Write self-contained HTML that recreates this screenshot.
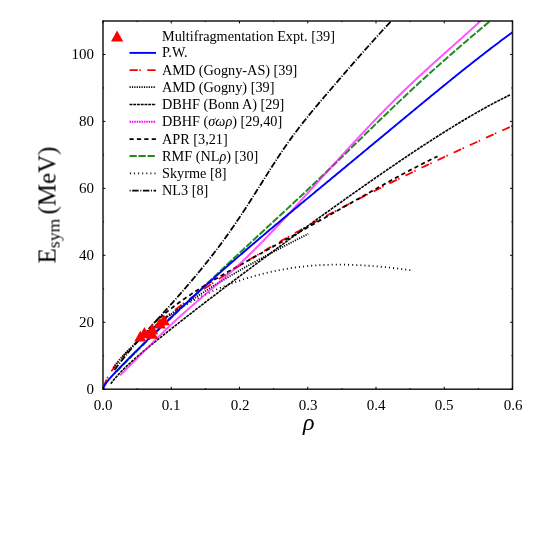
<!DOCTYPE html>
<html><head><meta charset="utf-8"><title>Esym</title>
<style>
html,body{margin:0;padding:0;background:#fff;}
body{width:554px;height:554px;position:relative;overflow:hidden;font-family:"Liberation Serif",serif;color:#000;}
.t{position:absolute;white-space:nowrap;line-height:1;will-change:transform;}
.lg{font-size:14.25px;left:161.7px;}
.xt{font-size:15px;width:40px;text-align:center;top:397.6px;}
.yt{font-size:15px;width:40px;text-align:right;left:54.3px;}
</style></head><body>

<svg width="554" height="554" viewBox="0 0 554 554" style="position:absolute;left:0;top:0">
<defs><clipPath id="c"><rect x="103.00" y="21.00" width="409.50" height="368.20"/></clipPath></defs>
<g clip-path="url(#c)" fill="none" stroke-linecap="butt" stroke-linejoin="round">
<path d="M116.65 371.52 L118.23 369.86 L119.80 368.22 L121.38 366.58 L122.96 364.96 L124.53 363.34 L126.11 361.73 L127.68 360.12 L129.26 358.53 L130.84 356.94 L132.41 355.35 L133.99 353.78 L135.57 352.21 L137.14 350.64 L138.72 349.08 L140.29 347.53 L141.87 345.98 L143.45 344.44 L145.02 342.90 L146.60 341.36 L148.18 339.83 L149.75 338.30 L151.33 336.78 L152.91 335.26 L154.48 333.74 L156.06 332.23 L157.63 330.71 L159.21 329.20 L160.79 327.69 L162.36 326.19 L163.94 324.68 L165.52 323.17 L167.09 321.67 L168.67 320.17 L170.25 318.66 L171.82 317.16 L173.40 315.66 L174.97 314.15 L176.55 312.65 L178.13 311.14 L179.70 309.64 L181.28 308.14 L182.86 306.63 L184.43 305.13 L186.01 303.63 L187.58 302.12 L189.16 300.62 L190.74 299.12 L192.31 297.61 L193.89 296.11 L195.47 294.61 L197.04 293.11 L198.62 291.61 L200.20 290.11 L201.77 288.61 L203.35 287.11 L204.92 285.61 L206.50 284.12 L208.08 282.62 L209.65 281.12 L211.23 279.63 L212.81 278.13 L214.38 276.64 L215.96 275.15 L217.53 273.66 L219.11 272.17 L220.69 270.68 L222.26 269.19 L223.84 267.70 L225.42 266.22 L226.99 264.73 L228.57 263.25 L230.15 261.77 L231.72 260.29 L233.30 258.81 L234.87 257.33 L236.45 255.86 L238.03 254.38 L239.60 252.91 L241.18 251.44 L242.76 249.97 L244.33 248.50 L245.91 247.04 L247.49 245.57 L249.06 244.11 L250.64 242.64 L252.21 241.18 L253.79 239.72 L255.37 238.26 L256.94 236.80 L258.52 235.34 L260.10 233.88 L261.67 232.43 L263.25 230.97 L264.82 229.51 L266.40 228.06 L267.98 226.60 L269.55 225.14 L271.13 223.69 L272.71 222.23 L274.28 220.78 L275.86 219.32 L277.44 217.86 L279.01 216.40 L280.59 214.95 L282.16 213.49 L283.74 212.03 L285.32 210.57 L286.89 209.11 L288.47 207.64 L290.05 206.18 L291.62 204.72 L293.20 203.25 L294.77 201.79 L296.35 200.32 L297.93 198.85 L299.50 197.38 L301.08 195.90 L302.66 194.43 L304.23 192.95 L305.81 191.48 L307.39 189.99 L308.96 188.51 L310.54 187.03 L312.11 185.54 L313.69 184.05 L315.27 182.56 L316.84 181.07 L318.42 179.57 L320.00 178.07 L321.57 176.57 L323.15 175.06 L324.73 173.56 L326.30 172.05 L327.88 170.53 L329.45 169.02 L331.03 167.50 L332.61 165.98 L334.18 164.46 L335.76 162.94 L337.34 161.41 L338.91 159.89 L340.49 158.36 L342.06 156.83 L343.64 155.30 L345.22 153.77 L346.79 152.23 L348.37 150.70 L349.95 149.16 L351.52 147.63 L353.10 146.09 L354.68 144.56 L356.25 143.02 L357.83 141.49 L359.40 139.95 L360.98 138.41 L362.56 136.88 L364.13 135.34 L365.71 133.81 L367.29 132.27 L368.86 130.74 L370.44 129.20 L372.02 127.67 L373.59 126.14 L375.17 124.61 L376.74 123.08 L378.32 121.55 L379.90 120.03 L381.47 118.50 L383.05 116.98 L384.63 115.46 L386.20 113.94 L387.78 112.43 L389.35 110.91 L390.93 109.40 L392.51 107.89 L394.08 106.39 L395.66 104.88 L397.24 103.38 L398.81 101.89 L400.39 100.39 L401.97 98.90 L403.54 97.41 L405.12 95.93 L406.69 94.45 L408.27 92.97 L409.85 91.50 L411.42 90.03 L413.00 88.57 L414.58 87.11 L416.15 85.65 L417.73 84.20 L419.30 82.75 L420.88 81.30 L422.46 79.86 L424.03 78.42 L425.61 76.99 L427.19 75.56 L428.76 74.13 L430.34 72.71 L431.92 71.29 L433.49 69.87 L435.07 68.46 L436.64 67.05 L438.22 65.65 L439.80 64.24 L441.37 62.85 L442.95 61.45 L444.53 60.06 L446.10 58.67 L447.68 57.28 L449.26 55.90 L450.83 54.52 L452.41 53.14 L453.98 51.77 L455.56 50.40 L457.14 49.03 L458.71 47.67 L460.29 46.31 L461.87 44.95 L463.44 43.59 L465.02 42.24 L466.59 40.89 L468.17 39.54 L469.75 38.20 L471.32 36.86 L472.90 35.52 L474.48 34.18 L476.05 32.85 L477.63 31.51 L479.21 30.19 L480.78 28.86 L482.36 27.53 L483.93 26.21 L485.51 24.89 L487.09 23.58 L488.66 22.26 L490.24 20.95 L491.82 19.64 L493.39 18.33" stroke="#228b22" stroke-width="2.00" stroke-dasharray="7.3 1.7"/>
<path d="M103.34 387.22 L106.78 378.81 L110.22 372.97 L113.66 367.97 L117.09 363.45 L120.53 359.26 L123.97 355.32 L127.41 351.58 L130.85 348.00 L134.29 344.55 L137.72 341.22 L141.16 337.99 L144.60 334.85 L148.04 331.79 L151.48 328.80 L154.92 325.88 L158.35 323.01 L161.79 320.20 L165.23 317.44 L168.67 314.73 L172.11 312.06 L175.55 309.43 L178.98 306.84 L182.42 304.29 L185.86 301.77 L189.30 299.28 L192.74 296.82 L196.18 294.40 L199.61 292.00 L203.05 289.62 L206.49 287.27 L209.93 284.95 L213.37 282.65 L216.81 280.37 L220.24 278.11 L223.68 275.87 L227.12 273.65 L230.56 271.45 L234.00 269.27 L237.44 267.11 L240.87 264.96 L244.31 262.83 L247.75 260.72 L251.19 258.62 L254.63 256.54 L258.07 254.47 L261.50 252.42 L264.94 250.38 L268.38 248.35 L271.82 246.34 L275.26 244.33 L278.70 242.35 L282.13 240.37 L285.57 238.40 L289.01 236.45 L292.45 234.51 L295.89 232.57 L299.32 230.65 L302.76 228.74 L306.20 226.84 L309.64 224.95 L313.08 223.07 L316.52 221.20 L319.95 219.34 L323.39 217.48 L326.83 215.64 L330.27 213.80 L333.71 211.98 L337.15 210.16 L340.58 208.35 L344.02 206.55 L347.46 204.75 L350.90 202.97 L354.34 201.19 L357.78 199.42 L361.21 197.65 L364.65 195.90 L368.09 194.15 L371.53 192.41 L374.97 190.67 L378.41 188.94 L381.84 187.22 L385.28 185.51 L388.72 183.80 L392.16 182.10 L395.60 180.40 L399.04 178.71 L402.47 177.03 L405.91 175.35 L409.35 173.68 L412.79 172.01 L416.23 170.35 L419.67 168.69 L423.10 167.05 L426.54 165.40 L429.98 163.76 L433.42 162.13 L436.86 160.50 L440.30 158.88 L443.73 157.26 L447.17 155.65 L450.61 154.04 L454.05 152.44 L457.49 150.84 L460.93 149.25 L464.36 147.66 L467.80 146.08 L471.24 144.50 L474.68 142.93 L478.12 141.36 L481.56 139.79 L484.99 138.23 L488.43 136.67 L491.87 135.12 L495.31 133.57 L498.75 132.03 L502.19 130.49 L505.62 128.95 L509.06 127.42 L512.50 125.89" stroke="#ff0000" stroke-width="1.75" stroke-dasharray="8.3 1.5 1.5 6.5"/>
<path d="M143.95 335.66 L145.07 334.64 L146.18 333.62 L147.30 332.63 L148.41 331.64 L149.53 330.67 L150.64 329.70 L151.76 328.75 L152.87 327.82 L153.99 326.89 L155.10 325.98 L156.22 325.07 L157.33 324.18 L158.45 323.30 L159.56 322.43 L160.68 321.57 L161.79 320.72 L162.91 319.89 L164.02 319.06 L165.14 318.24 L166.25 317.44 L167.37 316.64 L168.48 315.85 L169.60 315.08 L170.71 314.31 L171.83 313.55 L172.94 312.80 L174.06 312.07 L175.17 311.34 L176.29 310.62 L177.40 309.90 L178.52 309.20 L179.63 308.51 L180.75 307.82 L181.86 307.14 L182.98 306.47 L184.09 305.81 L185.21 305.16 L186.33 304.51 L187.44 303.87 L188.56 303.24 L189.67 302.62 L190.79 302.00 L191.90 301.39 L193.02 300.79 L194.13 300.19 L195.25 299.61 L196.36 299.02 L197.48 298.45 L198.59 297.88 L199.71 297.31 L200.82 296.76 L201.94 296.20 L203.05 295.66 L204.17 295.12 L205.28 294.58 L206.40 294.05 L207.51 293.53 L208.63 293.01 L209.74 292.49 L210.86 291.99 L211.97 291.48 L213.09 290.98 L214.20 290.49 L215.32 290.00 L216.43 289.52 L217.55 289.04 L218.66 288.57 L219.78 288.10 L220.89 287.64 L222.01 287.18 L223.12 286.73 L224.24 286.28 L225.35 285.84 L226.47 285.40 L227.59 284.97 L228.70 284.54 L229.82 284.12 L230.93 283.70 L232.05 283.29 L233.16 282.88 L234.28 282.48 L235.39 282.08 L236.51 281.69 L237.62 281.30 L238.74 280.92 L239.85 280.54 L240.97 280.16 L242.08 279.79 L243.20 279.43 L244.31 279.07 L245.43 278.72 L246.54 278.37 L247.66 278.02 L248.77 277.68 L249.89 277.35 L251.00 277.01 L252.12 276.69 L253.23 276.37 L254.35 276.05 L255.46 275.74 L256.58 275.43 L257.69 275.12 L258.81 274.83 L259.92 274.53 L261.04 274.24 L262.15 273.96 L263.27 273.68 L264.38 273.40 L265.50 273.13 L266.61 272.86 L267.73 272.60 L268.85 272.34 L269.96 272.09 L271.08 271.84 L272.19 271.59 L273.31 271.35 L274.42 271.12 L275.54 270.89 L276.65 270.66 L277.77 270.44 L278.88 270.22 L280.00 270.00 L281.11 269.80 L282.23 269.59 L283.34 269.39 L284.46 269.19 L285.57 269.00 L286.69 268.81 L287.80 268.63 L288.92 268.45 L290.03 268.28 L291.15 268.11 L292.26 267.94 L293.38 267.78 L294.49 267.62 L295.61 267.47 L296.72 267.32 L297.84 267.18 L298.95 267.04 L300.07 266.90 L301.18 266.77 L302.30 266.64 L303.41 266.52 L304.53 266.40 L305.64 266.28 L306.76 266.17 L307.87 266.07 L308.99 265.96 L310.11 265.87 L311.22 265.77 L312.34 265.68 L313.45 265.59 L314.57 265.51 L315.68 265.43 L316.80 265.36 L317.91 265.29 L319.03 265.22 L320.14 265.16 L321.26 265.10 L322.37 265.05 L323.49 264.99 L324.60 264.95 L325.72 264.90 L326.83 264.86 L327.95 264.83 L329.06 264.79 L330.18 264.76 L331.29 264.74 L332.41 264.72 L333.52 264.70 L334.64 264.68 L335.75 264.67 L336.87 264.66 L337.98 264.66 L339.10 264.66 L340.21 264.66 L341.33 264.66 L342.44 264.67 L343.56 264.68 L344.67 264.70 L345.79 264.72 L346.90 264.74 L348.02 264.76 L349.13 264.79 L350.25 264.82 L351.37 264.85 L352.48 264.89 L353.60 264.93 L354.71 264.97 L355.83 265.01 L356.94 265.06 L358.06 265.11 L359.17 265.17 L360.29 265.22 L361.40 265.28 L362.52 265.35 L363.63 265.41 L364.75 265.48 L365.86 265.55 L366.98 265.62 L368.09 265.70 L369.21 265.77 L370.32 265.85 L371.44 265.94 L372.55 266.02 L373.67 266.11 L374.78 266.20 L375.90 266.29 L377.01 266.39 L378.13 266.49 L379.24 266.59 L380.36 266.69 L381.47 266.79 L382.59 266.90 L383.70 267.01 L384.82 267.12 L385.93 267.23 L387.05 267.35 L388.16 267.46 L389.28 267.58 L390.39 267.70 L391.51 267.83 L392.63 267.95 L393.74 268.08 L394.86 268.21 L395.97 268.34 L397.09 268.47 L398.20 268.60 L399.32 268.74 L400.43 268.88 L401.55 269.02 L402.66 269.16 L403.78 269.30 L404.89 269.45 L406.01 269.59 L407.12 269.74 L408.24 269.89 L409.35 270.04 L410.47 270.19" stroke="#000" stroke-width="1.80" stroke-dasharray="1 3.1"/>
<path d="M113.24 367.73 L116.54 363.37 L119.85 359.37 L123.15 355.62 L126.46 352.08 L129.76 348.71 L133.07 345.48 L136.37 342.36 L139.68 339.35 L142.98 336.43 L146.29 333.59 L149.59 330.82 L152.90 328.12 L156.20 325.48 L159.51 322.89 L162.81 320.36 L166.12 317.87 L169.42 315.43 L172.73 313.02 L176.03 310.66 L179.34 308.33 L182.64 306.04 L185.95 303.77 L189.25 301.54 L192.56 299.34 L195.86 297.16 L199.17 295.02 L202.47 292.89 L205.78 290.79 L209.08 288.71 L212.39 286.66 L215.69 284.62 L218.99 282.61 L222.30 280.62 L225.60 278.64 L228.91 276.68 L232.21 274.74 L235.52 272.82 L238.82 270.91 L242.13 269.02 L245.43 267.14 L248.74 265.28 L252.04 263.43 L255.35 261.60 L258.65 259.78 L261.96 257.97 L265.26 256.18 L268.57 254.39 L271.87 252.62 L275.18 250.87 L278.48 249.12 L281.79 247.38 L285.09 245.66 L288.40 243.94 L291.70 242.24 L295.01 240.55 L298.31 238.86 L301.62 237.19 L304.92 235.52 L308.23 233.87" stroke="#000" stroke-width="1.80" stroke-dasharray="1.2 1.2"/>
<path d="M110.78 383.80 L112.45 381.57 L114.12 379.48 L115.80 377.49 L117.47 375.59 L119.14 373.77 L120.81 372.01 L122.48 370.30 L124.16 368.64 L125.83 367.02 L127.50 365.43 L129.17 363.87 L130.84 362.33 L132.52 360.82 L134.19 359.33 L135.86 357.86 L137.53 356.41 L139.20 354.96 L140.88 353.53 L142.55 352.12 L144.22 350.71 L145.89 349.31 L147.56 347.92 L149.24 346.54 L150.91 345.16 L152.58 343.80 L154.25 342.43 L155.92 341.08 L157.60 339.72 L159.27 338.37 L160.94 337.03 L162.61 335.69 L164.28 334.35 L165.96 333.02 L167.63 331.69 L169.30 330.36 L170.97 329.04 L172.64 327.72 L174.32 326.40 L175.99 325.08 L177.66 323.77 L179.33 322.46 L181.00 321.15 L182.68 319.84 L184.35 318.53 L186.02 317.23 L187.69 315.93 L189.36 314.63 L191.04 313.33 L192.71 312.03 L194.38 310.74 L196.05 309.44 L197.72 308.15 L199.40 306.86 L201.07 305.57 L202.74 304.29 L204.41 303.00 L206.08 301.72 L207.76 300.43 L209.43 299.15 L211.10 297.87 L212.77 296.59 L214.44 295.32 L216.12 294.04 L217.79 292.77 L219.46 291.49 L221.13 290.22 L222.80 288.95 L224.48 287.68 L226.15 286.41 L227.82 285.15 L229.49 283.88 L231.16 282.62 L232.84 281.36 L234.51 280.10 L236.18 278.84 L237.85 277.58 L239.52 276.32 L241.20 275.06 L242.87 273.81 L244.54 272.56 L246.21 271.30 L247.88 270.05 L249.56 268.80 L251.23 267.55 L252.90 266.31 L254.57 265.06 L256.24 263.81 L257.92 262.57 L259.59 261.33 L261.26 260.09 L262.93 258.84 L264.60 257.61 L266.28 256.37 L267.95 255.13 L269.62 253.89 L271.29 252.66 L272.96 251.43 L274.64 250.19 L276.31 248.96 L277.98 247.73 L279.65 246.50 L281.32 245.27 L283.00 244.05 L284.67 242.82 L286.34 241.59 L288.01 240.37 L289.68 239.15 L291.36 237.93 L293.03 236.70 L294.70 235.48 L296.37 234.27 L298.04 233.05 L299.72 231.83 L301.39 230.62 L303.06 229.40 L304.73 228.19 L306.40 226.97 L308.08 225.76 L309.75 224.55 L311.42 223.34 L313.09 222.14 L314.76 220.93 L316.44 219.72 L318.11 218.52 L319.78 217.31 L321.45 216.11 L323.12 214.91 L324.80 213.71 L326.47 212.51 L328.14 211.31 L329.81 210.11 L331.48 208.91 L333.16 207.72 L334.83 206.52 L336.50 205.33 L338.17 204.14 L339.84 202.95 L341.52 201.76 L343.19 200.57 L344.86 199.38 L346.53 198.20 L348.20 197.01 L349.88 195.83 L351.55 194.65 L353.22 193.47 L354.89 192.29 L356.56 191.11 L358.23 189.93 L359.91 188.75 L361.58 187.58 L363.25 186.41 L364.92 185.24 L366.59 184.07 L368.27 182.90 L369.94 181.73 L371.61 180.57 L373.28 179.40 L374.95 178.24 L376.63 177.08 L378.30 175.92 L379.97 174.77 L381.64 173.61 L383.31 172.46 L384.99 171.31 L386.66 170.16 L388.33 169.01 L390.00 167.86 L391.67 166.72 L393.35 165.58 L395.02 164.44 L396.69 163.30 L398.36 162.17 L400.03 161.03 L401.71 159.90 L403.38 158.78 L405.05 157.65 L406.72 156.53 L408.39 155.41 L410.07 154.29 L411.74 153.17 L413.41 152.06 L415.08 150.95 L416.75 149.84 L418.43 148.74 L420.10 147.63 L421.77 146.54 L423.44 145.44 L425.11 144.35 L426.79 143.26 L428.46 142.17 L430.13 141.09 L431.80 140.01 L433.47 138.93 L435.15 137.86 L436.82 136.79 L438.49 135.73 L440.16 134.66 L441.83 133.61 L443.51 132.55 L445.18 131.50 L446.85 130.46 L448.52 129.42 L450.19 128.38 L451.87 127.35 L453.54 126.32 L455.21 125.29 L456.88 124.27 L458.55 123.26 L460.23 122.25 L461.90 121.24 L463.57 120.24 L465.24 119.25 L466.91 118.26 L468.59 117.28 L470.26 116.30 L471.93 115.32 L473.60 114.36 L475.27 113.39 L476.95 112.44 L478.62 111.49 L480.29 110.54 L481.96 109.60 L483.63 108.67 L485.31 107.75 L486.98 106.83 L488.65 105.91 L490.32 105.01 L491.99 104.11 L493.67 103.22 L495.34 102.33 L497.01 101.46 L498.68 100.59 L500.35 99.72 L502.03 98.87 L503.70 98.02 L505.37 97.18 L507.04 96.35 L508.71 95.53 L510.39 94.71" stroke="#000" stroke-width="1.60" stroke-dasharray="2.9 0.85"/>
<path d="M154.19 322.77 L155.37 321.69 L156.56 320.61 L157.74 319.56 L158.93 318.52 L160.11 317.49 L161.30 316.47 L162.49 315.47 L163.67 314.48 L164.86 313.50 L166.04 312.53 L167.23 311.57 L168.41 310.63 L169.60 309.69 L170.78 308.77 L171.97 307.86 L173.15 306.95 L174.34 306.06 L175.52 305.17 L176.71 304.29 L177.90 303.43 L179.08 302.57 L180.27 301.71 L181.45 300.87 L182.64 300.03 L183.82 299.20 L185.01 298.38 L186.19 297.56 L187.38 296.76 L188.56 295.95 L189.75 295.16 L190.93 294.37 L192.12 293.58 L193.31 292.81 L194.49 292.03 L195.68 291.26 L196.86 290.50 L198.05 289.74 L199.23 288.99 L200.42 288.24 L201.60 287.50 L202.79 286.76 L203.97 286.02 L205.16 285.29 L206.34 284.57 L207.53 283.84 L208.72 283.12 L209.90 282.41 L211.09 281.69 L212.27 280.98 L213.46 280.27 L214.64 279.57 L215.83 278.87 L217.01 278.17 L218.20 277.47 L219.38 276.78 L220.57 276.09 L221.75 275.40 L222.94 274.71 L224.13 274.03 L225.31 273.35 L226.50 272.67 L227.68 271.99 L228.87 271.31 L230.05 270.64 L231.24 269.96 L232.42 269.29 L233.61 268.62 L234.79 267.95 L235.98 267.28 L237.16 266.62 L238.35 265.95 L239.54 265.29 L240.72 264.62 L241.91 263.96 L243.09 263.30 L244.28 262.64 L245.46 261.98 L246.65 261.32 L247.83 260.66 L249.02 260.00 L250.20 259.34 L251.39 258.69 L252.57 258.03 L253.76 257.37 L254.95 256.72 L256.13 256.06 L257.32 255.41 L258.50 254.75 L259.69 254.10 L260.87 253.44 L262.06 252.79 L263.24 252.13 L264.43 251.48 L265.61 250.82 L266.80 250.17 L267.98 249.51 L269.17 248.86 L270.36 248.21 L271.54 247.55 L272.73 246.90 L273.91 246.24 L275.10 245.59 L276.28 244.93 L277.47 244.27 L278.65 243.62 L279.84 242.96 L281.02 242.31 L282.21 241.65 L283.39 240.99 L284.58 240.33 L285.77 239.68 L286.95 239.02 L288.14 238.36 L289.32 237.70 L290.51 237.04 L291.69 236.38 L292.88 235.72 L294.06 235.06 L295.25 234.40 L296.43 233.74 L297.62 233.08 L298.80 232.41 L299.99 231.75 L301.18 231.09 L302.36 230.42 L303.55 229.76 L304.73 229.10 L305.92 228.43 L307.10 227.77 L308.29 227.10 L309.47 226.43 L310.66 225.77 L311.84 225.10 L313.03 224.43 L314.21 223.77 L315.40 223.10 L316.59 222.43 L317.77 221.76 L318.96 221.09 L320.14 220.42 L321.33 219.75 L322.51 219.08 L323.70 218.41 L324.88 217.74 L326.07 217.07 L327.25 216.40 L328.44 215.73 L329.62 215.06 L330.81 214.38 L332.00 213.71 L333.18 213.04 L334.37 212.37 L335.55 211.69 L336.74 211.02 L337.92 210.35 L339.11 209.67 L340.29 209.00 L341.48 208.33 L342.66 207.65 L343.85 206.98 L345.03 206.31 L346.22 205.63 L347.41 204.96 L348.59 204.29 L349.78 203.62 L350.96 202.94 L352.15 202.27 L353.33 201.60 L354.52 200.92 L355.70 200.25 L356.89 199.58 L358.07 198.91 L359.26 198.24 L360.44 197.57 L361.63 196.90 L362.82 196.23 L364.00 195.56 L365.19 194.89 L366.37 194.22 L367.56 193.55 L368.74 192.88 L369.93 192.22 L371.11 191.55 L372.30 190.88 L373.48 190.22 L374.67 189.55 L375.85 188.89 L377.04 188.23 L378.23 187.57 L379.41 186.90 L380.60 186.24 L381.78 185.58 L382.97 184.93 L384.15 184.27 L385.34 183.61 L386.52 182.96 L387.71 182.30 L388.89 181.65 L390.08 181.00 L391.26 180.35 L392.45 179.70 L393.64 179.05 L394.82 178.40 L396.01 177.76 L397.19 177.11 L398.38 176.47 L399.56 175.83 L400.75 175.19 L401.93 174.55 L403.12 173.92 L404.30 173.28 L405.49 172.65 L406.67 172.02 L407.86 171.39 L409.05 170.76 L410.23 170.14 L411.42 169.51 L412.60 168.89 L413.79 168.27 L414.97 167.65 L416.16 167.04 L417.34 166.43 L418.53 165.81 L419.71 165.21 L420.90 164.60 L422.08 163.99 L423.27 163.39 L424.46 162.79 L425.64 162.20 L426.83 161.60 L428.01 161.01 L429.20 160.42 L430.38 159.83 L431.57 159.25 L432.75 158.67 L433.94 158.09 L435.12 157.51 L436.31 156.94 L437.49 156.37" stroke="#000" stroke-width="1.75" stroke-dasharray="4.2 3.2"/>
<path d="M114.40 370.06 L115.57 368.49 L116.74 366.93 L117.90 365.40 L119.07 363.88 L120.24 362.37 L121.41 360.88 L122.58 359.40 L123.75 357.93 L124.92 356.48 L126.09 355.04 L127.25 353.61 L128.42 352.20 L129.59 350.79 L130.76 349.40 L131.93 348.01 L133.10 346.64 L134.27 345.27 L135.44 343.91 L136.61 342.57 L137.77 341.22 L138.94 339.89 L140.11 338.56 L141.28 337.24 L142.45 335.92 L143.62 334.61 L144.79 333.31 L145.96 332.01 L147.12 330.71 L148.29 329.42 L149.46 328.13 L150.63 326.84 L151.80 325.55 L152.97 324.26 L154.14 322.98 L155.31 321.70 L156.48 320.41 L157.64 319.13 L158.81 317.84 L159.98 316.56 L161.15 315.27 L162.32 313.98 L163.49 312.69 L164.66 311.40 L165.83 310.10 L166.99 308.81 L168.16 307.51 L169.33 306.21 L170.50 304.90 L171.67 303.60 L172.84 302.29 L174.01 300.98 L175.18 299.66 L176.35 298.34 L177.51 297.02 L178.68 295.69 L179.85 294.36 L181.02 293.03 L182.19 291.69 L183.36 290.35 L184.53 289.00 L185.70 287.65 L186.86 286.29 L188.03 284.93 L189.20 283.56 L190.37 282.19 L191.54 280.81 L192.71 279.43 L193.88 278.04 L195.05 276.65 L196.22 275.25 L197.38 273.84 L198.55 272.42 L199.72 271.00 L200.89 269.58 L202.06 268.14 L203.23 266.70 L204.40 265.25 L205.57 263.79 L206.73 262.33 L207.90 260.86 L209.07 259.38 L210.24 257.89 L211.41 256.39 L212.58 254.89 L213.75 253.38 L214.92 251.86 L216.09 250.32 L217.25 248.78 L218.42 247.24 L219.59 245.68 L220.76 244.11 L221.93 242.53 L223.10 240.94 L224.27 239.34 L225.44 237.74 L226.60 236.12 L227.77 234.49 L228.94 232.85 L230.11 231.20 L231.28 229.54 L232.45 227.86 L233.62 226.18 L234.79 224.48 L235.96 222.77 L237.12 221.05 L238.29 219.32 L239.46 217.58 L240.63 215.82 L241.80 214.06 L242.97 212.28 L244.14 210.49 L245.31 208.69 L246.47 206.88 L247.64 205.07 L248.81 203.24 L249.98 201.41 L251.15 199.58 L252.32 197.74 L253.49 195.89 L254.66 194.04 L255.83 192.19 L256.99 190.33 L258.16 188.48 L259.33 186.62 L260.50 184.76 L261.67 182.90 L262.84 181.05 L264.01 179.19 L265.18 177.34 L266.34 175.49 L267.51 173.64 L268.68 171.80 L269.85 169.97 L271.02 168.14 L272.19 166.31 L273.36 164.50 L274.53 162.69 L275.70 160.89 L276.86 159.10 L278.03 157.32 L279.20 155.55 L280.37 153.80 L281.54 152.05 L282.71 150.32 L283.88 148.61 L285.05 146.90 L286.21 145.22 L287.38 143.54 L288.55 141.89 L289.72 140.25 L290.89 138.63 L292.06 137.02 L293.23 135.43 L294.40 133.85 L295.57 132.28 L296.73 130.73 L297.90 129.19 L299.07 127.66 L300.24 126.15 L301.41 124.64 L302.58 123.15 L303.75 121.67 L304.92 120.20 L306.08 118.73 L307.25 117.28 L308.42 115.84 L309.59 114.40 L310.76 112.97 L311.93 111.55 L313.10 110.14 L314.27 108.73 L315.44 107.33 L316.60 105.94 L317.77 104.55 L318.94 103.16 L320.11 101.78 L321.28 100.40 L322.45 99.03 L323.62 97.66 L324.79 96.29 L325.95 94.92 L327.12 93.55 L328.29 92.19 L329.46 90.83 L330.63 89.46 L331.80 88.10 L332.97 86.74 L334.14 85.38 L335.31 84.02 L336.47 82.66 L337.64 81.30 L338.81 79.94 L339.98 78.59 L341.15 77.23 L342.32 75.88 L343.49 74.53 L344.66 73.17 L345.82 71.82 L346.99 70.48 L348.16 69.13 L349.33 67.78 L350.50 66.44 L351.67 65.10 L352.84 63.76 L354.01 62.42 L355.18 61.08 L356.34 59.75 L357.51 58.41 L358.68 57.08 L359.85 55.75 L361.02 54.43 L362.19 53.10 L363.36 51.78 L364.53 50.46 L365.69 49.14 L366.86 47.83 L368.03 46.51 L369.20 45.20 L370.37 43.89 L371.54 42.59 L372.71 41.28 L373.88 39.98 L375.05 38.68 L376.21 37.39 L377.38 36.10 L378.55 34.81 L379.72 33.52 L380.89 32.24 L382.06 30.96 L383.23 29.68 L384.40 28.41 L385.57 27.13 L386.73 25.87 L387.90 24.60 L389.07 23.34 L390.24 22.08 L391.41 20.83 L392.58 19.58 L393.75 18.33" stroke="#000" stroke-width="1.80" stroke-dasharray="6.5 1.6 1 1.6"/>
<path d="M120.20 375.26 L121.72 373.76 L123.24 372.24 L124.76 370.73 L126.28 369.21 L127.81 367.68 L129.33 366.15 L130.85 364.62 L132.37 363.08 L133.89 361.55 L135.41 360.01 L136.94 358.47 L138.46 356.93 L139.98 355.39 L141.50 353.85 L143.02 352.31 L144.54 350.77 L146.06 349.24 L147.59 347.70 L149.11 346.17 L150.63 344.65 L152.15 343.12 L153.67 341.60 L155.19 340.09 L156.71 338.58 L158.24 337.08 L159.76 335.58 L161.28 334.09 L162.80 332.61 L164.32 331.13 L165.84 329.67 L167.37 328.21 L168.89 326.76 L170.41 325.32 L171.93 323.90 L173.45 322.48 L174.97 321.07 L176.49 319.67 L178.02 318.28 L179.54 316.90 L181.06 315.53 L182.58 314.16 L184.10 312.80 L185.62 311.45 L187.14 310.10 L188.67 308.76 L190.19 307.43 L191.71 306.10 L193.23 304.77 L194.75 303.45 L196.27 302.13 L197.80 300.81 L199.32 299.50 L200.84 298.19 L202.36 296.88 L203.88 295.57 L205.40 294.26 L206.92 292.95 L208.45 291.64 L209.97 290.33 L211.49 289.02 L213.01 287.71 L214.53 286.40 L216.05 285.08 L217.57 283.76 L219.10 282.43 L220.62 281.11 L222.14 279.77 L223.66 278.44 L225.18 277.09 L226.70 275.74 L228.23 274.39 L229.75 273.03 L231.27 271.66 L232.79 270.28 L234.31 268.89 L235.83 267.50 L237.35 266.10 L238.88 264.68 L240.40 263.26 L241.92 261.83 L243.44 260.39 L244.96 258.93 L246.48 257.47 L248.00 256.00 L249.53 254.52 L251.05 253.03 L252.57 251.53 L254.09 250.02 L255.61 248.51 L257.13 246.98 L258.66 245.45 L260.18 243.91 L261.70 242.37 L263.22 240.81 L264.74 239.25 L266.26 237.69 L267.78 236.11 L269.31 234.53 L270.83 232.94 L272.35 231.35 L273.87 229.75 L275.39 228.15 L276.91 226.54 L278.43 224.92 L279.96 223.30 L281.48 221.67 L283.00 220.04 L284.52 218.41 L286.04 216.77 L287.56 215.13 L289.09 213.48 L290.61 211.83 L292.13 210.18 L293.65 208.52 L295.17 206.86 L296.69 205.20 L298.21 203.53 L299.74 201.86 L301.26 200.19 L302.78 198.52 L304.30 196.85 L305.82 195.17 L307.34 193.49 L308.86 191.81 L310.39 190.13 L311.91 188.45 L313.43 186.77 L314.95 185.09 L316.47 183.41 L317.99 181.73 L319.52 180.05 L321.04 178.37 L322.56 176.69 L324.08 175.01 L325.60 173.33 L327.12 171.65 L328.64 169.98 L330.17 168.30 L331.69 166.63 L333.21 164.95 L334.73 163.28 L336.25 161.61 L337.77 159.95 L339.29 158.28 L340.82 156.62 L342.34 154.95 L343.86 153.29 L345.38 151.64 L346.90 149.98 L348.42 148.33 L349.95 146.68 L351.47 145.04 L352.99 143.39 L354.51 141.75 L356.03 140.11 L357.55 138.48 L359.07 136.85 L360.60 135.22 L362.12 133.60 L363.64 131.98 L365.16 130.36 L366.68 128.75 L368.20 127.14 L369.72 125.54 L371.25 123.94 L372.77 122.34 L374.29 120.75 L375.81 119.16 L377.33 117.58 L378.85 116.00 L380.37 114.43 L381.90 112.87 L383.42 111.30 L384.94 109.75 L386.46 108.20 L387.98 106.65 L389.50 105.11 L391.03 103.58 L392.55 102.05 L394.07 100.53 L395.59 99.01 L397.11 97.50 L398.63 96.00 L400.15 94.50 L401.68 93.01 L403.20 91.52 L404.72 90.05 L406.24 88.58 L407.76 87.11 L409.28 85.66 L410.80 84.21 L412.33 82.77 L413.85 81.33 L415.37 79.90 L416.89 78.48 L418.41 77.06 L419.93 75.65 L421.46 74.25 L422.98 72.85 L424.50 71.45 L426.02 70.06 L427.54 68.68 L429.06 67.30 L430.58 65.92 L432.11 64.54 L433.63 63.17 L435.15 61.80 L436.67 60.44 L438.19 59.07 L439.71 57.71 L441.23 56.35 L442.76 55.00 L444.28 53.64 L445.80 52.28 L447.32 50.93 L448.84 49.57 L450.36 48.22 L451.89 46.87 L453.41 45.51 L454.93 44.15 L456.45 42.80 L457.97 41.44 L459.49 40.08 L461.01 38.72 L462.54 37.36 L464.06 35.99 L465.58 34.62 L467.10 33.25 L468.62 31.88 L470.14 30.50 L471.66 29.11 L473.19 27.73 L474.71 26.34 L476.23 24.94 L477.75 23.54 L479.27 22.14 L480.79 20.73 L482.32 19.31 L483.84 17.89" stroke="#ff00ff" stroke-opacity="0.55" stroke-width="1.90"/>
<path d="M120.20 375.26 L121.72 373.76 L123.24 372.24 L124.76 370.73 L126.28 369.21 L127.81 367.68 L129.33 366.15 L130.85 364.62 L132.37 363.08 L133.89 361.55 L135.41 360.01 L136.94 358.47 L138.46 356.93 L139.98 355.39 L141.50 353.85 L143.02 352.31 L144.54 350.77 L146.06 349.24 L147.59 347.70 L149.11 346.17 L150.63 344.65 L152.15 343.12 L153.67 341.60 L155.19 340.09 L156.71 338.58 L158.24 337.08 L159.76 335.58 L161.28 334.09 L162.80 332.61 L164.32 331.13 L165.84 329.67 L167.37 328.21 L168.89 326.76 L170.41 325.32 L171.93 323.90 L173.45 322.48 L174.97 321.07 L176.49 319.67 L178.02 318.28 L179.54 316.90 L181.06 315.53 L182.58 314.16 L184.10 312.80 L185.62 311.45 L187.14 310.10 L188.67 308.76 L190.19 307.43 L191.71 306.10 L193.23 304.77 L194.75 303.45 L196.27 302.13 L197.80 300.81 L199.32 299.50 L200.84 298.19 L202.36 296.88 L203.88 295.57 L205.40 294.26 L206.92 292.95 L208.45 291.64 L209.97 290.33 L211.49 289.02 L213.01 287.71 L214.53 286.40 L216.05 285.08 L217.57 283.76 L219.10 282.43 L220.62 281.11 L222.14 279.77 L223.66 278.44 L225.18 277.09 L226.70 275.74 L228.23 274.39 L229.75 273.03 L231.27 271.66 L232.79 270.28 L234.31 268.89 L235.83 267.50 L237.35 266.10 L238.88 264.68 L240.40 263.26 L241.92 261.83 L243.44 260.39 L244.96 258.93 L246.48 257.47 L248.00 256.00 L249.53 254.52 L251.05 253.03 L252.57 251.53 L254.09 250.02 L255.61 248.51 L257.13 246.98 L258.66 245.45 L260.18 243.91 L261.70 242.37 L263.22 240.81 L264.74 239.25 L266.26 237.69 L267.78 236.11 L269.31 234.53 L270.83 232.94 L272.35 231.35 L273.87 229.75 L275.39 228.15 L276.91 226.54 L278.43 224.92 L279.96 223.30 L281.48 221.67 L283.00 220.04 L284.52 218.41 L286.04 216.77 L287.56 215.13 L289.09 213.48 L290.61 211.83 L292.13 210.18 L293.65 208.52 L295.17 206.86 L296.69 205.20 L298.21 203.53 L299.74 201.86 L301.26 200.19 L302.78 198.52 L304.30 196.85 L305.82 195.17 L307.34 193.49 L308.86 191.81 L310.39 190.13 L311.91 188.45 L313.43 186.77 L314.95 185.09 L316.47 183.41 L317.99 181.73 L319.52 180.05 L321.04 178.37 L322.56 176.69 L324.08 175.01 L325.60 173.33 L327.12 171.65 L328.64 169.98 L330.17 168.30 L331.69 166.63 L333.21 164.95 L334.73 163.28 L336.25 161.61 L337.77 159.95 L339.29 158.28 L340.82 156.62 L342.34 154.95 L343.86 153.29 L345.38 151.64 L346.90 149.98 L348.42 148.33 L349.95 146.68 L351.47 145.04 L352.99 143.39 L354.51 141.75 L356.03 140.11 L357.55 138.48 L359.07 136.85 L360.60 135.22 L362.12 133.60 L363.64 131.98 L365.16 130.36 L366.68 128.75 L368.20 127.14 L369.72 125.54 L371.25 123.94 L372.77 122.34 L374.29 120.75 L375.81 119.16 L377.33 117.58 L378.85 116.00 L380.37 114.43 L381.90 112.87 L383.42 111.30 L384.94 109.75 L386.46 108.20 L387.98 106.65 L389.50 105.11 L391.03 103.58 L392.55 102.05 L394.07 100.53 L395.59 99.01 L397.11 97.50 L398.63 96.00 L400.15 94.50 L401.68 93.01 L403.20 91.52 L404.72 90.05 L406.24 88.58 L407.76 87.11 L409.28 85.66 L410.80 84.21 L412.33 82.77 L413.85 81.33 L415.37 79.90 L416.89 78.48 L418.41 77.06 L419.93 75.65 L421.46 74.25 L422.98 72.85 L424.50 71.45 L426.02 70.06 L427.54 68.68 L429.06 67.30 L430.58 65.92 L432.11 64.54 L433.63 63.17 L435.15 61.80 L436.67 60.44 L438.19 59.07 L439.71 57.71 L441.23 56.35 L442.76 55.00 L444.28 53.64 L445.80 52.28 L447.32 50.93 L448.84 49.57 L450.36 48.22 L451.89 46.87 L453.41 45.51 L454.93 44.15 L456.45 42.80 L457.97 41.44 L459.49 40.08 L461.01 38.72 L462.54 37.36 L464.06 35.99 L465.58 34.62 L467.10 33.25 L468.62 31.88 L470.14 30.50 L471.66 29.11 L473.19 27.73 L474.71 26.34 L476.23 24.94 L477.75 23.54 L479.27 22.14 L480.79 20.73 L482.32 19.31 L483.84 17.89" stroke="#ff00ff" stroke-width="1.90" stroke-dasharray="0.6 0.6" stroke-opacity="0.55"/>
<path d="M103.00 389.20 L104.71 385.16 L106.43 382.65 L108.14 380.46 L109.85 378.42 L111.57 376.47 L113.28 374.59 L114.99 372.74 L116.71 370.92 L118.42 369.13 L120.13 367.35 L121.85 365.59 L123.56 363.83 L125.27 362.09 L126.99 360.36 L128.70 358.63 L130.41 356.90 L132.13 355.19 L133.84 353.48 L135.55 351.77 L137.27 350.07 L138.98 348.37 L140.69 346.67 L142.41 344.99 L144.12 343.30 L145.83 341.62 L147.55 339.94 L149.26 338.27 L150.98 336.60 L152.69 334.93 L154.40 333.27 L156.12 331.61 L157.83 329.96 L159.54 328.31 L161.26 326.66 L162.97 325.02 L164.68 323.38 L166.40 321.75 L168.11 320.12 L169.82 318.50 L171.54 316.87 L173.25 315.26 L174.96 313.64 L176.68 312.04 L178.39 310.43 L180.10 308.83 L181.82 307.23 L183.53 305.64 L185.24 304.05 L186.96 302.47 L188.67 300.89 L190.38 299.31 L192.10 297.74 L193.81 296.17 L195.52 294.61 L197.24 293.05 L198.95 291.49 L200.66 289.94 L202.38 288.39 L204.09 286.84 L205.80 285.30 L207.52 283.76 L209.23 282.23 L210.94 280.69 L212.66 279.17 L214.37 277.64 L216.08 276.12 L217.80 274.60 L219.51 273.09 L221.22 271.58 L222.94 270.07 L224.65 268.57 L226.36 267.06 L228.08 265.56 L229.79 264.07 L231.50 262.58 L233.22 261.09 L234.93 259.60 L236.64 258.11 L238.36 256.63 L240.07 255.15 L241.79 253.68 L243.50 252.20 L245.21 250.73 L246.93 249.26 L248.64 247.79 L250.35 246.33 L252.07 244.87 L253.78 243.41 L255.49 241.95 L257.21 240.49 L258.92 239.04 L260.63 237.58 L262.35 236.13 L264.06 234.68 L265.77 233.24 L267.49 231.79 L269.20 230.35 L270.91 228.90 L272.63 227.46 L274.34 226.02 L276.05 224.58 L277.77 223.15 L279.48 221.71 L281.19 220.28 L282.91 218.84 L284.62 217.41 L286.33 215.98 L288.05 214.55 L289.76 213.12 L291.47 211.69 L293.19 210.26 L294.90 208.84 L296.61 207.41 L298.33 205.99 L300.04 204.56 L301.75 203.14 L303.47 201.72 L305.18 200.29 L306.89 198.87 L308.61 197.45 L310.32 196.03 L312.03 194.61 L313.75 193.19 L315.46 191.77 L317.17 190.35 L318.89 188.93 L320.60 187.51 L322.31 186.09 L324.03 184.67 L325.74 183.25 L327.45 181.83 L329.17 180.41 L330.88 178.99 L332.60 177.58 L334.31 176.16 L336.02 174.74 L337.74 173.32 L339.45 171.90 L341.16 170.48 L342.88 169.06 L344.59 167.65 L346.30 166.23 L348.02 164.81 L349.73 163.39 L351.44 161.97 L353.16 160.55 L354.87 159.13 L356.58 157.71 L358.30 156.29 L360.01 154.87 L361.72 153.45 L363.44 152.03 L365.15 150.61 L366.86 149.19 L368.58 147.77 L370.29 146.35 L372.00 144.93 L373.72 143.51 L375.43 142.09 L377.14 140.67 L378.86 139.25 L380.57 137.83 L382.28 136.41 L384.00 134.99 L385.71 133.57 L387.42 132.15 L389.14 130.73 L390.85 129.31 L392.56 127.89 L394.28 126.47 L395.99 125.05 L397.70 123.63 L399.42 122.21 L401.13 120.79 L402.84 119.37 L404.56 117.95 L406.27 116.54 L407.98 115.12 L409.70 113.70 L411.41 112.28 L413.12 110.87 L414.84 109.45 L416.55 108.04 L418.26 106.63 L419.98 105.21 L421.69 103.80 L423.41 102.39 L425.12 100.98 L426.83 99.57 L428.55 98.16 L430.26 96.76 L431.97 95.35 L433.69 93.95 L435.40 92.54 L437.11 91.14 L438.83 89.74 L440.54 88.34 L442.25 86.95 L443.97 85.55 L445.68 84.16 L447.39 82.77 L449.11 81.38 L450.82 79.99 L452.53 78.61 L454.25 77.22 L455.96 75.84 L457.67 74.46 L459.39 73.09 L461.10 71.72 L462.81 70.35 L464.53 68.98 L466.24 67.61 L467.95 66.25 L469.67 64.89 L471.38 63.54 L473.09 62.19 L474.81 60.84 L476.52 59.49 L478.23 58.15 L479.95 56.82 L481.66 55.48 L483.37 54.15 L485.09 52.83 L486.80 51.51 L488.51 50.19 L490.23 48.88 L491.94 47.57 L493.65 46.27 L495.37 44.97 L497.08 43.68 L498.79 42.39 L500.51 41.11 L502.22 39.83 L503.93 38.56 L505.65 37.29 L507.36 36.03 L509.07 34.78 L510.79 33.53 L512.50 32.29" stroke="#0000ff" stroke-width="1.90"/>
</g>
<path d="M140.30 330.70 L146.40 341.50 L134.20 341.50 Z" fill="#ff0000"/>
<path d="M144.40 327.10 L150.50 337.90 L138.30 337.90 Z" fill="#ff0000"/>
<path d="M152.10 323.50 L158.20 334.30 L146.00 334.30 Z" fill="#ff0000"/>
<path d="M152.00 328.00 L158.10 338.80 L145.90 338.80 Z" fill="#ff0000"/>
<path d="M159.70 317.60 L165.80 328.40 L153.60 328.40 Z" fill="#ff0000"/>
<path d="M163.80 314.50 L169.90 325.30 L157.70 325.30 Z" fill="#ff0000"/>
<rect x="103.00" y="21.00" width="409.50" height="368.20" fill="none" stroke="#1a1a1a" stroke-width="1.5"/>
<path d="M103.00 389.20 v-2.40 M103.00 21.00 v2.40 M137.12 389.20 v-1.10 M137.12 21.00 v1.10 M171.25 389.20 v-2.40 M171.25 21.00 v2.40 M205.38 389.20 v-1.10 M205.38 21.00 v1.10 M239.50 389.20 v-2.40 M239.50 21.00 v2.40 M273.62 389.20 v-1.10 M273.62 21.00 v1.10 M307.75 389.20 v-2.40 M307.75 21.00 v2.40 M341.88 389.20 v-1.10 M341.88 21.00 v1.10 M376.00 389.20 v-2.40 M376.00 21.00 v2.40 M410.12 389.20 v-1.10 M410.12 21.00 v1.10 M444.25 389.20 v-2.40 M444.25 21.00 v2.40 M478.38 389.20 v-1.10 M478.38 21.00 v1.10 M512.50 389.20 v-2.40 M512.50 21.00 v2.40 M103.00 389.20 h2.40 M512.50 389.20 h-2.40 M103.00 355.73 h1.10 M512.50 355.73 h-1.10 M103.00 322.25 h2.40 M512.50 322.25 h-2.40 M103.00 288.78 h1.10 M512.50 288.78 h-1.10 M103.00 255.31 h2.40 M512.50 255.31 h-2.40 M103.00 221.84 h1.10 M512.50 221.84 h-1.10 M103.00 188.36 h2.40 M512.50 188.36 h-2.40 M103.00 154.89 h1.10 M512.50 154.89 h-1.10 M103.00 121.42 h2.40 M512.50 121.42 h-2.40 M103.00 87.95 h1.10 M512.50 87.95 h-1.10 M103.00 54.47 h2.40 M512.50 54.47 h-2.40 M103.00 21.00 h1.10 M512.50 21.00 h-1.10" stroke="#000" stroke-width="1" fill="none"/>
<path d="M117.10 30.60 L123.20 41.40 L111.00 41.40 Z" fill="#ff0000"/>
<path d="M129.50 52.90 H156.00" stroke="#0000ff" stroke-width="1.90" fill="none"/>
<path d="M129.50 70.00 H156.00" stroke="#ff0000" stroke-width="1.75" fill="none" stroke-dasharray="8.3 1.5 1.5 6.5"/>
<path d="M129.50 87.20 H156.00" stroke="#000" stroke-width="1.80" fill="none" stroke-dasharray="1.2 1.2"/>
<path d="M129.50 104.50 H156.00" stroke="#000" stroke-width="1.60" fill="none" stroke-dasharray="2.9 0.85"/>
<path d="M129.50 121.80 H156.00" stroke="#ff00ff" stroke-width="1.90" fill="none" stroke-dasharray="1.5 0.9"/>
<path d="M129.50 139.00 H156.00" stroke="#000" stroke-width="1.75" fill="none" stroke-dasharray="4.2 3.2"/>
<path d="M129.50 156.00 H156.00" stroke="#228b22" stroke-width="2.00" fill="none" stroke-dasharray="7.3 1.7"/>
<path d="M129.50 173.40 H156.00" stroke="#000" stroke-width="1.80" fill="none" stroke-dasharray="1 3.1" stroke-dashoffset="-0.4"/>
<path d="M129.50 190.60 H156.00" stroke="#000" stroke-width="1.80" fill="none" stroke-dasharray="6.5 1.6 1 1.6" stroke-dashoffset="8.0"/>
</svg>
<div class="t lg" style="top:28.57px">Multifragmentation Expt. [39]</div>
<div class="t lg" style="top:45.48px">P.W.</div>
<div class="t lg" style="top:62.58px">AMD (Gogny-AS) [39]</div>
<div class="t lg" style="top:79.78px">AMD (Gogny) [39]</div>
<div class="t lg" style="top:97.08px">DBHF (Bonn A) [29]</div>
<div class="t lg" style="top:114.38px">DBHF (<i>σωρ</i>) [29,40]</div>
<div class="t lg" style="top:131.57px">APR [3,21]</div>
<div class="t lg" style="top:148.57px">RMF (NL<i>ρ</i>) [30]</div>
<div class="t lg" style="top:165.97px">Skyrme [8]</div>
<div class="t lg" style="top:183.17px">NL3 [8]</div>
<div class="t xt" style="left:83.00px">0.0</div>
<div class="t xt" style="left:151.25px">0.1</div>
<div class="t xt" style="left:219.50px">0.2</div>
<div class="t xt" style="left:287.75px">0.3</div>
<div class="t xt" style="left:356.00px">0.4</div>
<div class="t xt" style="left:424.25px">0.5</div>
<div class="t xt" style="left:492.50px">0.6</div>
<div class="t yt" style="top:382.20px">0</div>
<div class="t yt" style="top:315.25px">20</div>
<div class="t yt" style="top:248.31px">40</div>
<div class="t yt" style="top:181.36px">60</div>
<div class="t yt" style="top:114.42px">80</div>
<div class="t yt" style="top:47.47px">100</div>
<div class="t" style="font-size:25px;left:46.6px;top:205.3px;word-spacing:-2px;transform:translate(-50%,-50%) rotate(-90deg);">E<sub style="font-size:17.6px;vertical-align:-3.5px;line-height:0">sym</sub> (MeV)</div>
<div class="t" style="font-size:24px;font-style:italic;left:303px;top:410px;">ρ</div>
</body></html>
